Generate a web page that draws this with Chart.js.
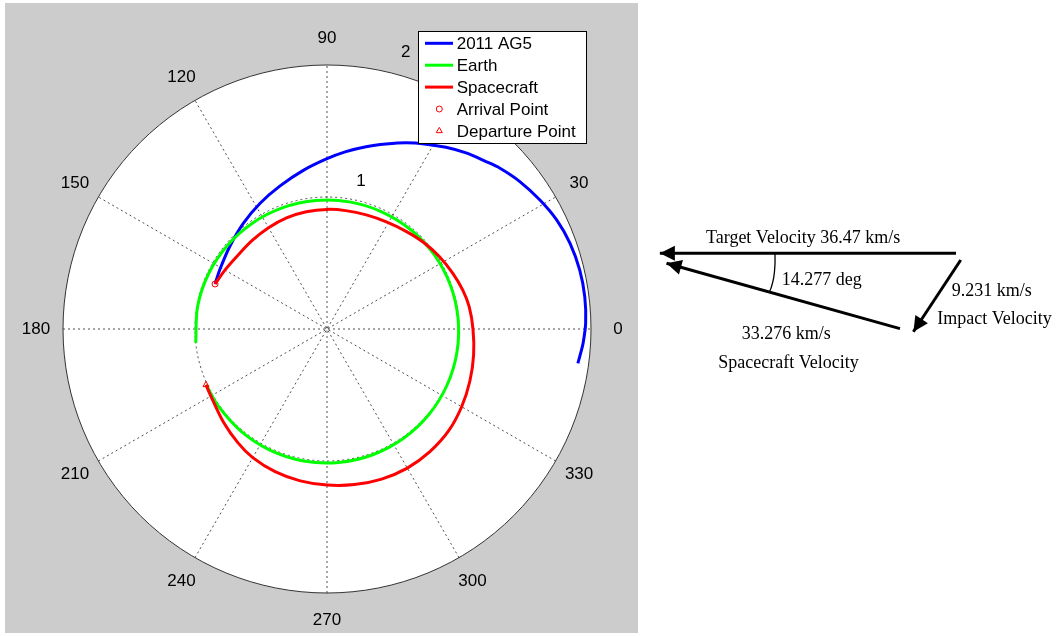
<!DOCTYPE html>
<html><head><meta charset="utf-8">
<script src="https://cdn.jsdelivr.net/npm/chart.js@4.4.0/dist/chart.umd.min.js"></script>
<style>
html,body{margin:0;padding:0;background:#fff;width:1057px;height:636px;overflow:hidden}
#polarWrap{position:absolute;left:5px;top:3px;width:633px;height:630px;background:#cccccc}
#diagWrap{position:absolute;left:650px;top:200px;width:407px;height:180px}
canvas{display:block}
</style></head><body>
<div id="polarWrap"><canvas id="polar" width="633" height="630"></canvas></div>
<div id="diagWrap"><canvas id="diag" width="407" height="180"></canvas></div>
<script>
// ---------- DATA: polar orbit plot (angle in degrees, radius in AU) ----------
const agTheta = [158.1, 151.1, 139.7, 128.4, 118.0, 108.3, 98.5, 90, 83.9, 77.9, 72.3, 67.0, 61.8, 56.8, 51.7, 46.5, 42.9, 37.4, 31.2, 25.4, 19.4, 13.1, 7.1, 1.3, -3.2, -5.5, -7.8];
const agR     = [0.914, 0.928, 0.966, 1.021, 1.079, 1.140, 1.215, 1.290, 1.351, 1.412, 1.471, 1.533, 1.589, 1.645, 1.700, 1.749, 1.789, 1.839, 1.886, 1.926, 1.952, 1.966, 1.968, 1.960, 1.943, 1.930, 1.918];

const earthTheta = [204.8, 215, 230, 245, 260, 275, 290, 305, 320, 335, 350, 365, 380, 395, 410, 425, 440, 455, 470, 485, 500, 515, 530, 546];
const earthR     = [1.008, 1.010, 1.012, 1.014, 1.015, 1.015, 1.014, 1.011, 1.008, 1.004, 1.000, 0.996, 0.992, 0.988, 0.984, 0.980, 0.978, 0.977, 0.978, 0.981, 0.985, 0.990, 0.995, 1.000];

const scTheta = [204.8, 212, 222, 232, 240, 250, 260, 270, 280, 290, 300, 310, 320, 330, 340, 350, 360, 369, 376, 384, 393, 402, 411, 421, 431, 441, 450, 460, 470, 480, 490, 500, 510, 518.1];
const scR     = [1.010, 1.020, 1.055, 1.095, 1.125, 1.150, 1.168, 1.182, 1.197, 1.210, 1.217, 1.213, 1.202, 1.178, 1.152, 1.128, 1.106, 1.090, 1.070, 1.042, 1.012, 0.982, 0.952, 0.928, 0.914, 0.908, 0.906, 0.902, 0.896, 0.886, 0.878, 0.876, 0.893, 0.914];

const seriesNames = ['2011 AG5', 'Earth', 'Spacecraft', 'Arrival Point', 'Departure Point'];
const angleTicks = [0, 30, 60, 90, 120, 150, 180, 210, 240, 270, 300, 330];
const radialTicks = [1, 2];

// ---------- DATA: velocity diagram (km/s-like diagram units) ----------
const vecTarget     = [[0, 0], [-36.47, 0]];
const vecSpacecraft = [[-6.9, -9.27], [-35.65, -1.23]];
const vecImpact     = [[0.58, -0.83], [-5.25, -9.66]];
const angleArc      = [[-22.29, 0], [-22.30, -1.5], [-22.45, -3.0], [-22.75, -4.2], [-23.0, -4.8]];
const diagTexts     = ['Target Velocity 36.47 km/s', '14.277 deg', '9.231 km/s', 'Impact Velocity', '33.276 km/s', 'Spacecraft Velocity'];

// ---------- helpers ----------
const D2R = Math.PI / 180;
function polarToXY(th, r) { return th.map((t, i) => ({ x: r[i] * Math.cos(t * D2R), y: r[i] * Math.sin(t * D2R) })); }
function pairs(arr) { return arr.map(p => ({ x: p[0], y: p[1] })); }
const SANS = '17px "Liberation Sans", Arial, sans-serif';
const SERIF = '18px "Liberation Serif", "Times New Roman", serif';

const rMax = radialTicks[radialTicks.length - 1];

const polarGrid = {
  id: 'polarGrid',
  beforeDatasetsDraw(chart) {
    const ctx = chart.ctx, xs = chart.scales.x, ys = chart.scales.y;
    const cx = xs.getPixelForValue(0), cy = ys.getPixelForValue(0);
    const unit = xs.getPixelForValue(1) - cx;
    const R = rMax * unit;
    ctx.save();
    ctx.fillStyle = '#ffffff';
    ctx.beginPath(); ctx.arc(cx, cy, R, 0, Math.PI * 2); ctx.fill();
    // spokes
    ctx.strokeStyle = '#222'; ctx.lineWidth = 0.8; ctx.setLineDash([2, 3]);
    for (let a = 0; a < 180; a += 30) {
      const dx = R * Math.cos(a * D2R), dy = R * Math.sin(a * D2R);
      ctx.beginPath(); ctx.moveTo(cx - dx, cy + dy); ctx.lineTo(cx + dx, cy - dy); ctx.stroke();
    }
    // inner rings
    radialTicks.slice(0, -1).forEach(v => { ctx.beginPath(); ctx.arc(cx, cy, v * unit, 0, Math.PI * 2); ctx.stroke(); });
    ctx.setLineDash([]);
    ctx.strokeStyle = '#333'; ctx.lineWidth = 1;
    ctx.beginPath(); ctx.arc(cx, cy, R, 0, Math.PI * 2); ctx.stroke();
    // angle labels
    ctx.fillStyle = '#000'; ctx.font = SANS; ctx.textAlign = 'center'; ctx.textBaseline = 'middle';
    const lr = 2.205 * unit;
    angleTicks.forEach(a => ctx.fillText(String(a), cx + lr * Math.cos(a * D2R), cy - lr * Math.sin(a * D2R)));
    // radial labels
    radialTicks.forEach(v => {
      const rr = (v * 1.03 + 0.12) * unit, aa = (80.1 - 3 * v) * D2R;
      ctx.fillText(String(v), cx + rr * Math.cos(aa), cy - rr * Math.sin(aa));
    });
    ctx.restore();
  },
  afterDraw(chart) {
    const ctx = chart.ctx, ds = chart.data.datasets;
    const left = 413.3, top = 28, w = 168.4, h = 112.3;
    ctx.save();
    ctx.fillStyle = '#fff'; ctx.fillRect(left, top, w, h);
    ctx.strokeStyle = '#000'; ctx.lineWidth = 1; ctx.strokeRect(Math.round(left) + 0.5, Math.round(top) + 0.5, Math.round(w), Math.round(h));
    ctx.font = SANS; ctx.textAlign = 'left'; ctx.textBaseline = 'middle';
    ds.forEach((d, i) => {
      const y = top + 12.3 + i * 21.9;
      if (d.showLine) {
        ctx.strokeStyle = d.borderColor; ctx.lineWidth = 3;
        ctx.beginPath(); ctx.moveTo(420, y); ctx.lineTo(448, y); ctx.stroke();
      } else {
        ctx.strokeStyle = d.borderColor; ctx.fillStyle = 'rgba(0,0,0,0)'; ctx.lineWidth = 1;
        Chart.helpers.drawPoint(ctx, { pointStyle: d.pointStyle, radius: d.pointRadius, rotation: 0, borderWidth: 1 }, 434.3, y);
      }
      ctx.fillStyle = '#000';
      ctx.fillText(d.label, 451.7, y + 1);
    });
    ctx.restore();
  }
};

new Chart(document.getElementById('polar'), {
  type: 'line',
  data: {
    datasets: [
      { label: seriesNames[0], data: polarToXY(agTheta, agR), showLine: true, borderColor: '#0000ff', borderWidth: 3, pointRadius: 0, tension: 0.33, order: 5 },
      { label: seriesNames[1], data: polarToXY(earthTheta, earthR), showLine: true, borderColor: '#00ff00', borderWidth: 3, pointRadius: 0, tension: 0.33, order: 4 },
      { label: seriesNames[2], data: polarToXY(scTheta, scR), showLine: true, borderColor: '#ff0000', borderWidth: 3, pointRadius: 0, tension: 0.33, order: 3 },
      { label: seriesNames[3], data: polarToXY([scTheta[scTheta.length - 1]], [scR[scR.length - 1]]), showLine: false, pointStyle: 'circle', pointRadius: 3, borderColor: '#ff0000', backgroundColor: 'rgba(0,0,0,0)', pointBorderWidth: 1, order: 2 },
      { label: seriesNames[4], data: polarToXY([scTheta[0]], [scR[0]]), showLine: false, pointStyle: 'triangle', pointRadius: 3.5, borderColor: '#ff0000', backgroundColor: 'rgba(0,0,0,0)', pointBorderWidth: 1, order: 1 }
    ]
  },
  options: {
    responsive: false, animation: false, devicePixelRatio: 1, events: [],
    layout: { padding: 0, autoPadding: false },
    plugins: { legend: { display: false }, tooltip: { enabled: false } },
    scales: {
      x: { type: 'linear', display: false, min: -322 / 132, max: 311 / 132 },
      y: { type: 'linear', display: false, min: -304 / 132, max: 326 / 132 }
    }
  },
  plugins: [polarGrid]
});

// ---------- velocity diagram ----------
const diagPos = [[-30.79, 1.305], [-21.47, -3.90], [-0.53, -5.26], [-2.30, -8.71], [-26.39, -10.59], [-29.27, -14.09]];
const diagDecor = {
  id: 'diagDecor',
  afterDatasetsDraw(chart) {
    const ctx = chart.ctx, xs = chart.scales.x, ys = chart.scales.y;
    ctx.save();
    chart.data.datasets.forEach((d, i) => {
      if (!d.arrowHead) return;
      const pts = chart.getDatasetMeta(i).data;
      const a = pts[pts.length - 2], b = pts[pts.length - 1];
      const dx = b.x - a.x, dy = b.y - a.y, L = Math.hypot(dx, dy);
      const ux = dx / L, uy = dy / L, px = -uy, py = ux;
      const len = 15, hw = 7.5;
      ctx.fillStyle = '#000';
      ctx.beginPath();
      ctx.moveTo(b.x, b.y);
      ctx.lineTo(b.x - ux * len + px * hw, b.y - uy * len + py * hw);
      ctx.lineTo(b.x - ux * len - px * hw, b.y - uy * len - py * hw);
      ctx.closePath(); ctx.fill();
    });
    ctx.font = SERIF; ctx.fillStyle = '#000'; ctx.textAlign = 'left'; ctx.textBaseline = 'alphabetic';
    diagTexts.forEach((t, i) => ctx.fillText(t, xs.getPixelForValue(diagPos[i][0]), ys.getPixelForValue(diagPos[i][1])));
    ctx.restore();
  }
};

new Chart(document.getElementById('diag'), {
  type: 'line',
  data: {
    datasets: [
      { label: 'Target Velocity', data: pairs(vecTarget), borderColor: '#000', borderWidth: 3, pointRadius: 0, arrowHead: true },
      { label: 'Spacecraft Velocity', data: pairs(vecSpacecraft), borderColor: '#000', borderWidth: 3, pointRadius: 0, arrowHead: true },
      { label: 'Impact Velocity', data: pairs(vecImpact), borderColor: '#000', borderWidth: 3, pointRadius: 0, arrowHead: true },
      { label: 'Angle', data: pairs(angleArc), borderColor: '#000', borderWidth: 1.3, pointRadius: 0, tension: 0.4 }
    ]
  },
  options: {
    responsive: false, animation: false, devicePixelRatio: 1, events: [],
    layout: { padding: 0, autoPadding: false },
    plugins: { legend: { display: false }, tooltip: { enabled: false } },
    scales: {
      x: { type: 'linear', display: false, min: -306 / 8.12, max: 101 / 8.12 },
      y: { type: 'linear', display: false, min: -126.7 / 8.12, max: 53.3 / 8.12 }
    }
  },
  plugins: [diagDecor]
});
</script>
</body></html>
